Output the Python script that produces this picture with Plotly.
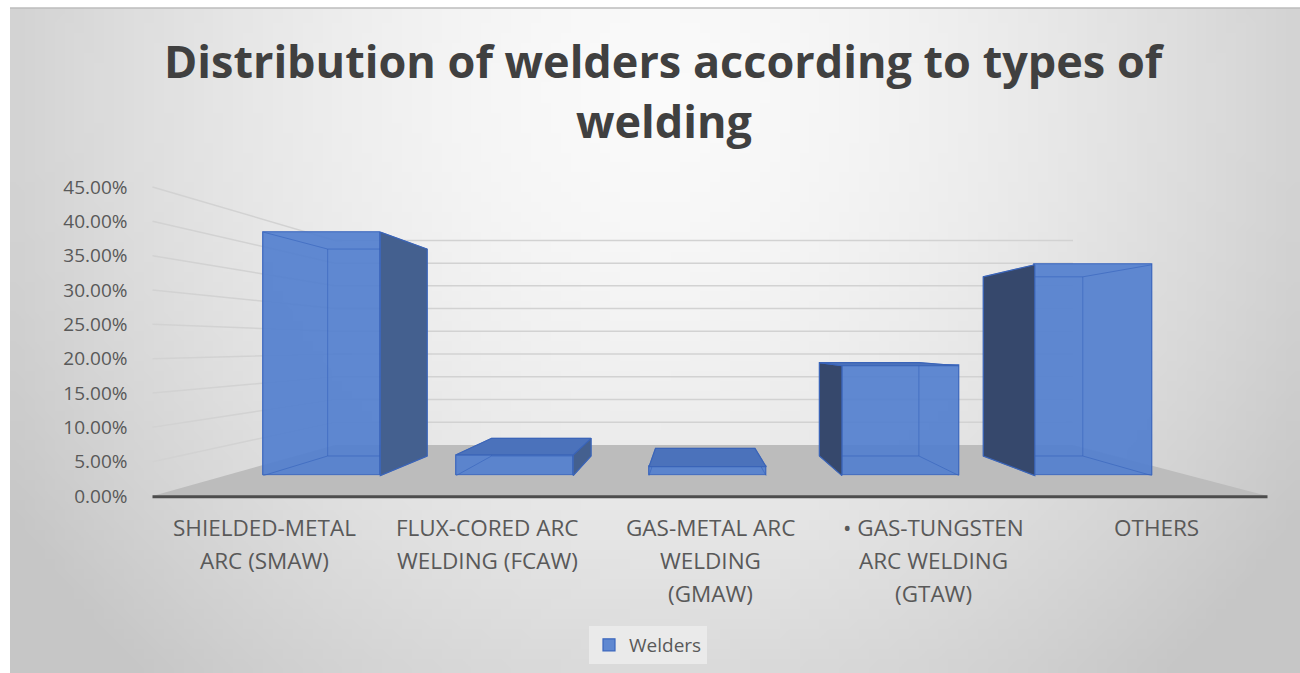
import base64
import struct
import zlib
import math
import plotly.graph_objects as go

# ---------------- data ----------------
categories = [
    "SHIELDED-METAL ARC (SMAW)",
    "FLUX-CORED ARC WELDING (FCAW)",
    "GAS-METAL ARC WELDING (GMAW)",
    "• GAS-TUNGSTEN ARC WELDING (GTAW)",
    "OTHERS",
]
label_lines = [
    ["SHIELDED-METAL", "ARC (SMAW)"],
    ["FLUX-CORED ARC", "WELDING (FCAW)"],
    ["GAS-METAL ARC", "WELDING", "(GMAW)"],
    ["• GAS-TUNGSTEN", "ARC WELDING", "(GTAW)"],
    ["OTHERS"],
]
values = [0.410, 0.035, 0.015, 0.185, 0.355]
series_name = "Welders"
y_ticks = [0.00, 0.05, 0.10, 0.15, 0.20, 0.25, 0.30, 0.35, 0.40, 0.45]
y_tick_labels = ["0.00%", "5.00%", "10.00%", "15.00%", "20.00%",
                 "25.00%", "30.00%", "35.00%", "40.00%", "45.00%"]
title_lines = ["Distribution of welders according to types of", "welding"]

# ---------------- geometry (pseudo 3-D perspective) ----------------
W, H = 1300, 673
FRONT_X = (152.5, 1267.5)     # front plane pixel extent of category axis
FRONT_Y = (496.0, 187.0)      # front plane pixel y of 0 and YMAX
YMAX = 0.45
VP = (692.0, 345.0)           # vanishing point
K_BAR = (0.135, 0.265)        # depth of bar front / back faces
K_WALL = 0.338                # depth of back wall
BAR_W = 0.607
n = len(categories)


def front(c, v):
    x = FRONT_X[0] + (c + 0.5) / n * (FRONT_X[1] - FRONT_X[0])
    y = FRONT_Y[0] + v / YMAX * (FRONT_Y[1] - FRONT_Y[0])
    return x, y


def proj(x, y, k):
    return x + k * (VP[0] - x), y + k * (VP[1] - y)


def pt(c, v, k):
    return proj(*front(c, v), k)


def paper(p):
    return p[0] / W, 1 - p[1] / H


# ---------------- background gradient image ----------------
def gradient_png(w, h):
    rows = []
    for j in range(h):
        t = j / (h - 1)
        row = bytearray([0])
        for i in range(w):
            u = i / (w - 1)
            d = math.sqrt(((u - 0.5) / 0.6) ** 2 + ((t - 0.12) / 1.2) ** 2)
            val = 250 - 52 * min(d, 1.0) ** 1.6
            row.append(int(max(0, min(255, round(val)))))
        rows.append(bytes(row))
    raw = b"".join(rows)

    def chunk(tag, data):
        c = struct.pack(">I", len(data)) + tag + data
        return c + struct.pack(">I", zlib.crc32(tag + data) & 0xFFFFFFFF)

    png = b"\x89PNG\r\n\x1a\n"
    png += chunk(b"IHDR", struct.pack(">IIBBBBB", w, h, 8, 0, 0, 0, 0))
    png += chunk(b"IDAT", zlib.compress(raw, 9))
    png += chunk(b"IEND", b"")
    return "data:image/png;base64," + base64.b64encode(png).decode()


FONT = "Open Sans"
TXT = "#595959"

fig = go.Figure()

# front faces of the bars (library bar trace)
fig.add_trace(go.Bar(
    x=categories, y=values, name=series_name,
    xaxis="x2", yaxis="y2", width=BAR_W,
    marker=dict(color="rgba(84,128,207,0.93)",
                line=dict(color="#3a66bd", width=1.2)),
    hoverinfo="x+y",
))

# 3-D faces / hidden edges computed from the values
FACE_RIGHT = "#44608f"
FACE_LEFT = "#36486c"
TOP = "#4b72bb"
EDGE = "#3a64b8"
for i, v in enumerate(values):
    xl, xr = i - BAR_W / 2, i + BAR_W / 2
    k1, k2 = K_BAR
    FBL, FBR, FTL, FTR = pt(xl, 0, k1), pt(xr, 0, k1), pt(xl, v, k1), pt(xr, v, k1)
    BBL, BBR, BTL, BTR = pt(xl, 0, k2), pt(xr, 0, k2), pt(xl, v, k2), pt(xr, v, k2)

    # hidden (see-through) edges
    for a, b in [(BBL, BBR), (BBR, BTR), (BTR, BTL), (BTL, BBL),
                 (FBL, BBL), (FBR, BBR), (FTL, BTL), (FTR, BTR)]:
        fig.add_trace(go.Scatter(
            x=[a[0], b[0]], y=[a[1], b[1]], xaxis="x3", yaxis="y3",
            mode="lines", line=dict(color="rgba(50,95,185,0.55)", width=1),
            showlegend=False, hoverinfo="skip"))

    polys = []
    if FTR[0] < VP[0]:
        polys.append(([FTR, BTR, BBR, FBR], FACE_RIGHT))
    if FTL[0] > VP[0]:
        polys.append(([FTL, BTL, BBL, FBL], FACE_LEFT))
    if FTL[1] > VP[1]:
        polys.append(([FTL, FTR, BTR, BTL], TOP))
    for pts, col in polys:
        fig.add_trace(go.Scatter(
            x=[p[0] for p in pts] + [pts[0][0]],
            y=[p[1] for p in pts] + [pts[0][1]],
            xaxis="x3", yaxis="y3", mode="lines", fill="toself",
            fillcolor=col, line=dict(color=EDGE, width=1.2),
            showlegend=False, hoverinfo="skip"))

# ---------------- shapes: floor, walls ----------------
shapes = []
floor_pts = [pt(-0.5, 0, 0), pt(n - 0.5, 0, 0), pt(n - 0.5, 0, K_WALL), pt(-0.5, 0, K_WALL)]
path = "M " + " L ".join(f"{paper(p)[0]:.5f},{paper(p)[1]:.5f}" for p in floor_pts) + " Z"
shapes.append(dict(type="path", path=path, xref="paper", yref="paper",
                   fillcolor="#bcbcbc", line=dict(width=0), layer="below"))
for v in y_ticks[1:]:
    a, b, c = pt(-0.5, v, 0), pt(-0.5, v, K_WALL), pt(n - 0.5, v, K_WALL)
    path = "M " + " L ".join(f"{paper(p)[0]:.5f},{paper(p)[1]:.5f}" for p in (a, b, c))
    shapes.append(dict(type="path", path=path, xref="paper", yref="paper",
                       line=dict(color="#d2d2d2", width=1.5), layer="below"))
fa, fb = paper(pt(-0.5, 0, 0)), paper(pt(n - 0.5, 0, 0))
shapes.append(dict(type="line", xref="paper", yref="paper",
                   x0=fa[0], y0=fa[1] - 0.001, x1=fb[0], y1=fb[1] - 0.001,
                   line=dict(color="#4d4d4d", width=3), layer="below"))
# chart area top border
shapes.append(dict(type="line", xref="paper", yref="paper",
                   x0=10 / W, x1=1, y0=1 - 8 / H, y1=1 - 8 / H,
                   line=dict(color="#bdbdbd", width=1.5), layer="below"))

# ---------------- annotations ----------------
annotations = []
for t, yy in zip(title_lines, [60, 120]):
    annotations.append(dict(text=f"<b>{t}</b>", xref="paper", yref="paper",
                            x=664 / W, y=1 - yy / H, showarrow=False,
                            xanchor="center", yanchor="middle",
                            font=dict(family=FONT, size=45, color="#404040")))
for i, lines in enumerate(label_lines):
    for j, line in enumerate(lines):
        annotations.append(dict(text=line, xref="x", yref="paper",
                                x=i, y=1 - (527 + 33 * j) / H, showarrow=False,
                                xanchor="center", yanchor="middle",
                                font=dict(family=FONT, size=22.5, color=TXT)))

# axes domains
x2l = proj(FRONT_X[0], 0, K_BAR[0])[0]
x2r = proj(FRONT_X[1], 0, K_BAR[0])[0]
y2b = proj(0, FRONT_Y[0], K_BAR[0])[1]
y2t = proj(0, FRONT_Y[1], K_BAR[0])[1]

fig.update_layout(
    width=W, height=H,
    margin=dict(l=0, r=0, t=0, b=0, autoexpand=False),
    paper_bgcolor="white",
    plot_bgcolor="rgba(0,0,0,0)",
    font=dict(family=FONT, color=TXT),
    showlegend=True,
    legend=dict(x=648 / W, y=1 - 645 / H, xanchor="center", yanchor="middle",
                orientation="h", bgcolor="rgba(236,236,236,0.85)",
                font=dict(family=FONT, size=19, color=TXT),
                itemwidth=30),
    xaxis=dict(domain=[FRONT_X[0] / W, FRONT_X[1] / W], range=[-0.5, n - 0.5],
               showticklabels=False, showgrid=False, zeroline=False,
               showline=False, ticks="", fixedrange=True, anchor="y"),
    yaxis=dict(domain=[1 - FRONT_Y[0] / H, 1 - FRONT_Y[1] / H], range=[0, YMAX],
               tickvals=y_ticks, ticktext=y_tick_labels, showgrid=False,
               zeroline=False, showline=False, ticks="", automargin=False,
               ticklabelstandoff=24,
               tickfont=dict(family=FONT, size=19, color=TXT),
               fixedrange=True, anchor="x"),
    xaxis2=dict(domain=[x2l / W, x2r / W], range=[-0.5, n - 0.5],
                type="category", categoryarray=categories, visible=False,
                anchor="y2", fixedrange=True),
    yaxis2=dict(domain=[1 - y2b / H, 1 - y2t / H], range=[0, YMAX],
                visible=False, anchor="x2", fixedrange=True),
    xaxis3=dict(domain=[0, 1], range=[0, W], visible=False, anchor="y3",
                fixedrange=True),
    yaxis3=dict(domain=[0, 1], range=[H, 0], visible=False, anchor="x3",
                fixedrange=True),
    shapes=shapes,
    annotations=annotations,
    images=[dict(source=gradient_png(130, 67), xref="paper", yref="paper",
                 x=10 / W, y=1 - 8 / H, sizex=1 - 10 / W, sizey=1 - 8 / H,
                 sizing="stretch", layer="below", xanchor="left",
                 yanchor="top")],
    bargap=0,
)

fig.write_html("out.html")
